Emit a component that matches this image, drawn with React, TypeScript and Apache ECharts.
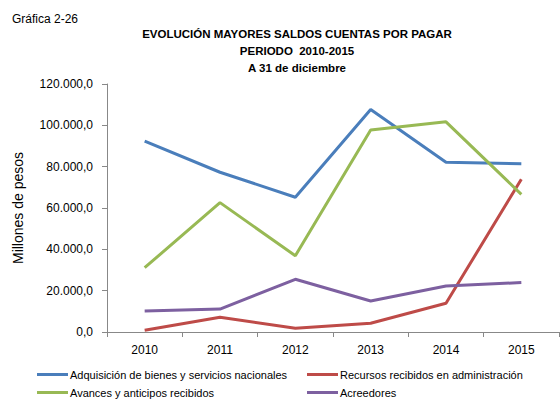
import React, { useEffect, useRef } from "react";
import * as echarts from "echarts";

const years = ["2010", "2011", "2012", "2013", "2014", "2015"];
const adquisicion = [92400, 77300, 65200, 107700, 82100, 81400];
const recursos = [800, 7100, 1800, 4200, 13900, 73900];
const avances = [31100, 62600, 36900, 97700, 101700, 66600];
const acreedores = [10200, 11100, 25500, 15000, 22300, 23900];
const seriesNames = [
  "Adquisición de bienes y servicios nacionales",
  "Recursos recibidos en administración",
  "Avances y anticipos recibidos",
  "Acreedores",
];
const colors = ["#4A7EBB", "#BE4B48", "#98B954", "#7D60A0"];

const FONT = "Liberation Sans";

function fmt(v: number) {
  const s = Math.round(v).toString().replace(/\B(?=(\d{3})+(?!\d))/g, ".");
  return s + ",0";
}

export default function App() {
  const ref = useRef<HTMLDivElement>(null);
  useEffect(() => {
    const chart = echarts.init(ref.current!, null, { renderer: "svg" });
    const data = [adquisicion, recursos, avances, acreedores];
    const legendPos = [
      { left: 37, top: 369 },
      { left: 307, top: 369 },
      { left: 37, top: 387 },
      { left: 307, top: 387 },
    ];
    chart.setOption({
      animation: false,
      backgroundColor: "#fff",
      title: [
        {
          text: "Gráfica 2-26",
          left: 7,
          top: 8,
          textStyle: { fontFamily: FONT, fontSize: 12, fontWeight: "normal", color: "#000" },
        },
        {
          text: "EVOLUCIÓN MAYORES SALDOS CUENTAS POR PAGAR\nPERIODO  2010-2015\nA 31 de diciembre",
          left: 292,
          top: 20,
          textAlign: "center",
          textStyle: {
            fontFamily: FONT,
            fontSize: 11.5,
            fontWeight: "bold",
            color: "#000",
            lineHeight: 17,
            align: "center",
          },
        },
      ],
      legend: seriesNames.map((n, i) => ({
        data: [n],
        left: legendPos[i].left,
        top: legendPos[i].top,
        icon: "rect",
        itemWidth: 31,
        itemHeight: 3,
        itemGap: 2,
        padding: 0,
        textStyle: { fontFamily: FONT, fontSize: 11, color: "#000", padding: [0, 0, 0, -3] },
      })),
      grid: { left: 107, right: 1, top: 84, bottom: 68, containLabel: false },
      xAxis: {
        type: "category",
        data: years,
        boundaryGap: true,
        axisLine: { lineStyle: { color: "#888", width: 1 } },
        axisTick: { show: true, length: 5, lineStyle: { color: "#888" } },
        axisLabel: { fontFamily: FONT, fontSize: 12, color: "#000", margin: 12 },
      },
      yAxis: {
        type: "value",
        min: 0,
        max: 120000,
        interval: 20000,
        name: "Millones de pesos",
        nameLocation: "middle",
        nameGap: 82,
        nameTextStyle: { fontFamily: FONT, fontSize: 14, color: "#000" },
        axisLine: { show: true, lineStyle: { color: "#888", width: 1 } },
        axisTick: { show: true, length: 5, lineStyle: { color: "#888" } },
        splitLine: { show: false },
        axisLabel: {
          fontFamily: FONT,
          fontSize: 12,
          color: "#000",
          margin: 14,
          formatter: (v: number) => fmt(v),
        },
      },
      series: data.map((d, i) => ({
        name: seriesNames[i],
        type: "line",
        data: d,
        symbol: "none",
        lineStyle: { color: colors[i], width: 3 },
        itemStyle: { color: colors[i] },
      })),
    });
    return () => chart.dispose();
  }, []);
  return <div ref={ref} style={{ width: 560, height: 400, position: "absolute", left: 0, top: 0 }} />;
}
